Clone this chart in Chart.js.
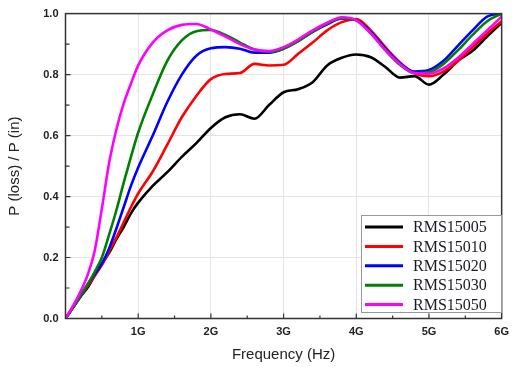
<!DOCTYPE html>
<html>
<head>
<meta charset="utf-8">
<script src="https://cdn.jsdelivr.net/npm/chart.js@4.4.1/dist/chart.umd.min.js"></script>
<style>
    body { margin: 0; background: #fff; }
    #wrap { width: 516px; height: 367px; }
</style>
</head>
<body>
<div id="wrap"><canvas id="chart" width="516" height="367"></canvas></div>
<script>
// frequency grid (GHz) shared by every curve
const freqs = [0, 0.1, 0.2, 0.3, 0.4, 0.5, 0.6, 0.7, 0.8, 0.9, 1.0,
    1.2, 1.4, 1.6, 1.8, 2.0, 2.2, 2.4, 2.6, 2.8, 3.0, 3.2, 3.4, 3.6, 3.8,
    4.0, 4.2, 4.4, 4.6, 4.8, 5.0, 5.2, 5.4, 5.6, 5.8, 6.0];

const seriesNames = ['RMS15005', 'RMS15010', 'RMS15020', 'RMS15030', 'RMS15050'];
const seriesColors = ['#000000', '#ff0000', '#0000ff', '#008000', '#ff00ff'];

const rms15005 = [0, 0.035, 0.07, 0.1, 0.14, 0.18, 0.215, 0.26, 0.3, 0.345, 0.38,
    0.435, 0.48, 0.53, 0.575, 0.625, 0.66, 0.67, 0.655, 0.7, 0.742, 0.752, 0.775, 0.83, 0.855,
    0.866, 0.857, 0.825, 0.79, 0.795, 0.767, 0.8, 0.845, 0.878, 0.925, 0.97];
const rms15010 = [0, 0.035, 0.07, 0.105, 0.14, 0.175, 0.22, 0.265, 0.315, 0.365, 0.41,
    0.482, 0.57, 0.66, 0.73, 0.785, 0.802, 0.805, 0.835, 0.83, 0.832, 0.868, 0.905, 0.945, 0.972,
    0.982, 0.945, 0.89, 0.84, 0.805, 0.795, 0.81, 0.845, 0.89, 0.935, 0.975];
const rms15020 = [0, 0.035, 0.07, 0.11, 0.145, 0.18, 0.23, 0.295, 0.365, 0.435, 0.495,
    0.6, 0.71, 0.8, 0.862, 0.886, 0.89, 0.885, 0.872, 0.872, 0.885, 0.91, 0.94, 0.965, 0.984,
    0.978, 0.94, 0.885, 0.838, 0.81, 0.815, 0.845, 0.895, 0.945, 0.99, 1.0];
const rms15030 = [0, 0.035, 0.072, 0.11, 0.152, 0.2, 0.275, 0.355, 0.445, 0.53, 0.61,
    0.735, 0.845, 0.912, 0.942, 0.946, 0.93, 0.905, 0.882, 0.875, 0.885, 0.91, 0.94, 0.967, 0.985,
    0.978, 0.935, 0.88, 0.832, 0.805, 0.808, 0.835, 0.88, 0.93, 0.975, 1.0];
const rms15050 = [0, 0.04, 0.085, 0.14, 0.22, 0.36, 0.51, 0.62, 0.705, 0.77, 0.83,
    0.905, 0.945, 0.963, 0.966, 0.948, 0.925, 0.9, 0.882, 0.877, 0.89, 0.915, 0.945, 0.97, 0.988,
    0.978, 0.935, 0.88, 0.835, 0.805, 0.803, 0.82, 0.855, 0.9, 0.945, 0.99];

const seriesValues = [rms15005, rms15010, rms15020, rms15030, rms15050];

const xTicks = [0, 1, 2, 3, 4, 5, 6];
const yTicks = [0, 0.2, 0.4, 0.6, 0.8, 1.0];

const FRAME = '#333';

// frame around the plot + inward tick marks (major and minor)
const frameTicks = {
    id: 'frameTicks',
    afterDraw(chart) {
        const { ctx, chartArea: a, scales: { x, y } } = chart;
        ctx.save();
        ctx.strokeStyle = FRAME;
        ctx.lineWidth = 1.5;
        ctx.strokeRect(a.left, a.top, a.right - a.left, a.bottom - a.top);
        ctx.lineWidth = 1.2;
        ctx.beginPath();
        for (let v = 0.5; v < 6; v += 1) {
            const px = x.getPixelForValue(v);
            ctx.moveTo(px, a.bottom); ctx.lineTo(px, a.bottom - 3);
        }
        for (let v = 1; v < 6; v += 1) {
            const px = x.getPixelForValue(v);
            ctx.moveTo(px, a.bottom); ctx.lineTo(px, a.bottom - 5);
        }
        for (let i = 1; i < 10; i++) {
            const py = y.getPixelForValue(i / 10);
            ctx.moveTo(a.left, py); ctx.lineTo(a.left + (i % 2 ? 4 : 5), py);
        }
        ctx.stroke();
        ctx.restore();
    }
};

// legend box inside the lower right of the plot
const boxLegend = {
    id: 'boxLegend',
    afterDraw(chart) {
        const { ctx } = chart;
        const left = 361, top = 215, w = 140, h = 97;
        ctx.save();
        ctx.fillStyle = '#fff';
        ctx.fillRect(left, top, w, h);
        ctx.strokeStyle = '#999';
        ctx.lineWidth = 1;
        ctx.strokeRect(left + 0.5, top + 0.5, w, h);
        ctx.font = '16px "Liberation Serif", "Times New Roman", serif';
        ctx.textBaseline = 'middle';
        chart.data.datasets.forEach((ds, i) => {
            const yy = top + 12 + i * 19.4;
            ctx.strokeStyle = ds.borderColor;
            ctx.lineWidth = 3;
            ctx.beginPath();
            ctx.moveTo(365, yy);
            ctx.lineTo(403, yy);
            ctx.stroke();
            ctx.fillStyle = '#1a1a24';
            ctx.fillText(ds.label, 413, yy + 1);
        });
        ctx.restore();
    }
};

const datasets = seriesNames.map((name, i) => ({
    label: name,
    data: freqs.map((f, j) => ({ x: f, y: seriesValues[i][j] })),
    borderColor: seriesColors[i],
    borderWidth: 2.6,
    pointRadius: 0,
    fill: false,
    cubicInterpolationMode: 'monotone',
    order: seriesNames.length - i
}));

const tickFont = { family: '"Liberation Sans", Arial, sans-serif', size: 11, weight: 'bold' };
const titleFont = { family: '"Liberation Sans", Arial, sans-serif', size: 15 };

new Chart(document.getElementById('chart'), {
    type: 'line',
    data: { datasets },
    options: {
        responsive: false,
        animation: false,
        devicePixelRatio: 1,
        layout: { padding: { left: 0, right: 11, top: 7, bottom: 0 } },
        plugins: {
            legend: { display: false },
            tooltip: { enabled: false }
        },
        scales: {
            x: {
                type: 'linear',
                min: 0,
                max: 6,
                afterBuildTicks: s => { s.ticks = xTicks.map(v => ({ value: v })); },
                afterFit: s => { s.height = 48.5; },
                ticks: {
                    callback: v => (v === 0 ? '' : v + 'G'),
                    font: tickFont,
                    color: '#222',
                    padding: 7,
                    maxRotation: 0,
                    autoSkip: false
                },
                grid: { color: '#e4e4e4', lineWidth: 1, drawTicks: false },
                border: { display: false },
                title: {
                    display: true,
                    text: 'Frequency (Hz)',
                    font: titleFont,
                    color: '#222',
                    padding: { top: 0, bottom: 3 }
                }
            },
            y: {
                min: 0,
                max: 1,
                afterBuildTicks: s => { s.ticks = yTicks.map(v => ({ value: v })); },
                afterFit: s => { s.width = 65.5; },
                ticks: {
                    callback: v => v.toFixed(1),
                    font: tickFont,
                    color: '#222',
                    padding: 7
                },
                grid: { color: '#e4e4e4', lineWidth: 1, drawTicks: false },
                border: { display: false },
                title: {
                    display: true,
                    text: 'P (loss) / P (in)',
                    font: titleFont,
                    color: '#222',
                    padding: { top: 6, bottom: 0 }
                }
            }
        }
    },
    plugins: [frameTicks, boxLegend]
});
</script>
</body>
</html>
